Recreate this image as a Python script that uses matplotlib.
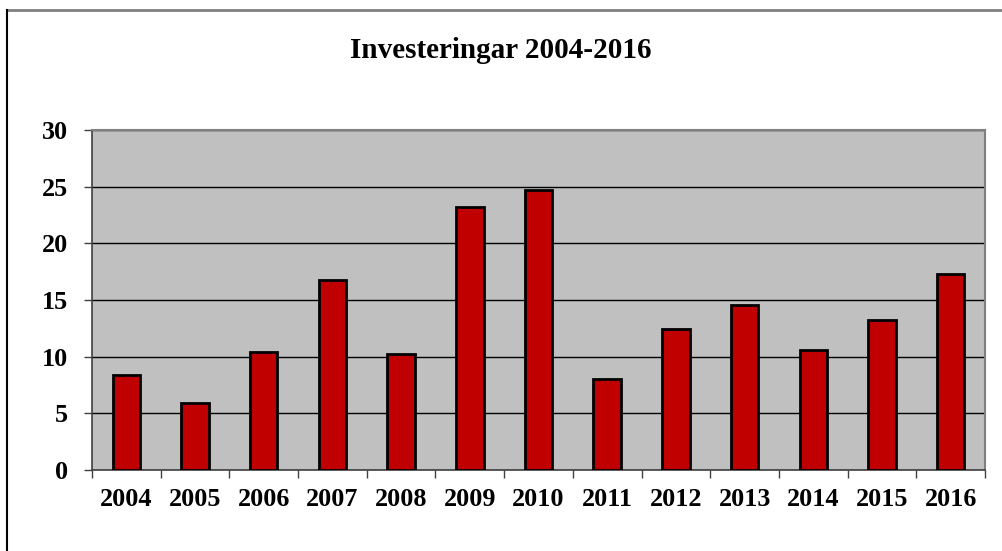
import matplotlib
matplotlib.use("Agg")
import matplotlib.pyplot as plt
from matplotlib.lines import Line2D
import numpy as np

years = ["2004", "2005", "2006", "2007", "2008", "2009", "2010",
         "2011", "2012", "2013", "2014", "2015", "2016"]
values = [8.4, 5.9, 10.4, 16.8, 10.2, 23.2, 24.7, 8.0, 12.4, 14.6, 10.6, 13.2, 17.3]
y_ticks = [0, 5, 10, 15, 20, 25, 30]
title = "Investeringar 2004-2016"

plt.rcParams['font.family'] = ['Liberation Serif', 'DejaVu Serif']
plt.rcParams['font.weight'] = 'bold'

fig = plt.figure(figsize=(10.02, 5.51), dpi=100)
W, H = 1002, 551
ax = fig.add_axes([92 / W, (H - 470) / H, (985 - 92) / W, (470 - 130) / H])
ax.set_facecolor('#C0C0C0')

x = np.arange(len(years))
ax.bar(x, values, width=0.4, color='#C00000', edgecolor='black', linewidth=2.0, zorder=3)

ax.set_xlim(-0.5, len(years) - 0.5)
ax.set_ylim(0, 30)
ax.set_yticks(y_ticks)
ax.set_yticklabels([str(t) for t in y_ticks])
ax.yaxis.grid(True, color='black', linewidth=1.0, zorder=1)
ax.set_axisbelow(True)

ax.set_xticks(x)
ax.set_xticklabels(years)
ax.set_xticks(np.arange(-0.5, len(years), 1.0), minor=True)
ax.tick_params(axis='x', which='major', length=0, pad=13, labelsize=18.8)
ax.tick_params(axis='x', which='minor', length=6, width=1.0, color='#404040', direction='out')
ax.tick_params(axis='y', length=6, width=1.0, color='#404040', pad=11, labelsize=18.8)
for lab in ax.get_xticklabels() + ax.get_yticklabels():
    lab.set_fontweight('bold')

for side in ['top', 'right']:
    ax.spines[side].set_color('#808080')
    ax.spines[side].set_linewidth(1.5)
for side in ['left', 'bottom']:
    ax.spines[side].set_color('#404040')
    ax.spines[side].set_linewidth(1.2)

fig.text(0.5, 1 - 50 / H, title, ha='center', va='center', fontsize=21, fontweight='bold')

# outer chart frame (top and left edges visible)
fig.add_artist(Line2D([7 / W, 1.0], [1 - 10 / H, 1 - 10 / H], color='#808080', linewidth=2.0, transform=fig.transFigure))
fig.add_artist(Line2D([7 / W, 7 / W], [0.0, 1 - 10 / H], color='black', linewidth=1.5, transform=fig.transFigure))

fig.savefig("out.png", dpi=100)
